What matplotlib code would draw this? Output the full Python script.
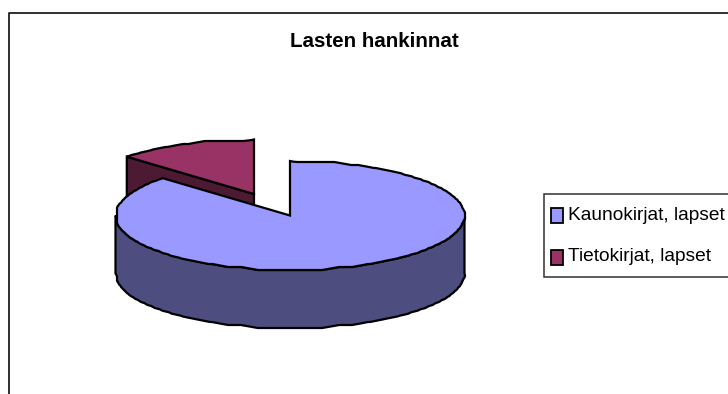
import numpy as np
import matplotlib
matplotlib.use("Agg")
import matplotlib.pyplot as plt
from matplotlib.patches import Polygon, Rectangle

title = "Lasten hankinnat"
categories = ["Kaunokirjat, lapset", "Tietokirjat, lapset"]
values = [87, 13]
top_colors = ["#9999FF", "#993366"]
side_colors = ["#4D4D80", "#4D1A33"]

plt.rcParams["font.family"] = ["Liberation Sans", "DejaVu Sans"]
fig = plt.figure(figsize=(7.28, 3.94), dpi=100)
ax = fig.add_axes([0, 0, 1, 1])
ax.set_xlim(0, 728)
ax.set_ylim(394, 0)
ax.axis("off")

CX, CY, RX, RY, DEPTH = 290, 215.5, 174.5, 54.5, 58
EXPLODE = (-36, -21.5)
LW = 1.6
EDGE = "black"
GRID = 3.0   # coarse outline steps, softened: the source curve is slightly wobbly
SOFT = 9


def pt(a, c):
    return c[0] + RX * np.sin(a), c[1] - RY * np.cos(a)


def arc(a0, a1, c):
    n = max(int(abs(a1 - a0) * 90), SOFT * 3)
    t = np.linspace(a0, a1, n)
    p = np.column_stack([c[0] + RX * np.sin(t), c[1] - RY * np.cos(t)])
    q = np.round(p / GRID) * GRID
    pad = SOFT // 2
    e = np.vstack([np.repeat(p[:1], pad, 0), q, np.repeat(p[-1:], pad, 0)])
    k = np.ones(SOFT) / SOFT
    s = np.column_stack([np.convolve(e[:, i], k, "valid") for i in range(2)])
    s[0], s[-1] = p[0], p[-1]
    return s


fracs = np.array(values) / sum(values)
split = 2 * np.pi * fracs[0]

# exploded small slice: drawn first, the large slice overlaps it
c2 = (CX + EXPLODE[0], CY + EXPLODE[1])
edge_pt = np.array(pt(split, c2))
apex = np.array(c2)
d = np.array([0, DEPTH])
ax.add_patch(Polygon([apex, apex + d, edge_pt + d, edge_pt], closed=True,
                     fc=side_colors[1], ec=EDGE, lw=LW, zorder=2))
ax.add_patch(Polygon(np.vstack([[apex], arc(split, 2 * np.pi, c2)]), closed=True,
                     fc=top_colors[1], ec=EDGE, lw=LW, zorder=3))

# large slice: side wall then top
c1 = (CX, CY)
low = arc(np.pi / 2, 3 * np.pi / 2, c1)
ax.add_patch(Polygon(np.vstack([low, (low + d)[::-1]]), closed=True,
                     fc=side_colors[0], ec=EDGE, lw=LW, zorder=4))
ax.add_patch(Polygon(np.vstack([[c1], arc(0, split, c1)]), closed=True,
                     fc=top_colors[0], ec=EDGE, lw=LW, zorder=5))

# chart frame (bleeds off the right and bottom edges)
ax.plot([8.5, 8.5, 740], [400, 12.5, 12.5], color="#202020", lw=1.3, zorder=1)

ax.text(374.5, 41, title, fontsize=14.8, fontweight="bold", ha="center", va="center",
        color="black")

# legend
ax.add_patch(Rectangle((543.5, 193.5), 200, 83.5, fc="white", ec="#303030", lw=1.1, zorder=6))
for y, lab, col in zip([215.5, 257], categories, top_colors):
    ax.add_patch(Rectangle((550.5, y - 7.5), 12, 15, fc=col, ec="black", lw=1.3, zorder=7))
    ax.text(568, y - 0.5, lab, fontsize=13.75, ha="left", va="center", color="black", zorder=7)

fig.savefig("out.png", dpi=100)
